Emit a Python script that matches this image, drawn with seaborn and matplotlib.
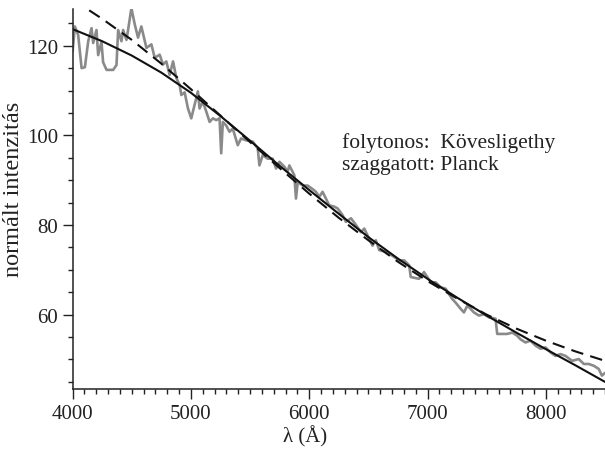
import matplotlib
matplotlib.use("Agg")
import matplotlib.pyplot as plt
from matplotlib.ticker import MultipleLocator
import seaborn as sns
import pandas as pd

# Observed spectrum (gray)
spec_wl = [4000, 4019, 4047, 4076, 4104, 4132, 4160, 4174, 4202, 4216, 4244, 4258, 4287, 4343,
           4371, 4385, 4413, 4427, 4455, 4469, 4497, 4525, 4553, 4581, 4610, 4624, 4666, 4694,
           4736, 4764, 4792, 4820, 4849, 4877, 4905, 4919, 4947, 4975, 5003, 5031, 5059, 5073,
           5101, 5130, 5158, 5186, 5214, 5242, 5256, 5270, 5298, 5326, 5354, 5396, 5424, 5466,
           5523, 5565, 5579, 5607, 5649, 5691, 5720, 5748, 5790, 5818, 5832, 5874, 5888, 5903,
           5945, 5987, 6029, 6057, 6085, 6113, 6141, 6169, 6212, 6240, 6282, 6310, 6353, 6395,
           6437, 6465, 6493, 6535, 6563, 6592, 6650, 6700, 6761, 6803, 6845, 6858, 6928, 6970,
           6998, 7027, 7069, 7111, 7153, 7181, 7209, 7237, 7280, 7308, 7336, 7364, 7392, 7434,
           7477, 7519, 7575, 7589, 7673, 7716, 7758, 7786, 7828, 7870, 7913, 7955, 7997, 8039,
           8081, 8124, 8166, 8222, 8278, 8321, 8363, 8405, 8447, 8474, 8500]
spec_int = [118.7, 124.3, 122.4, 115.0, 115.2, 121.0, 123.9, 120.6, 123.5, 117.9, 120.8, 116.3,
            114.6, 114.6, 115.7, 123.5, 121.0, 123.5, 121.3, 123.5, 128.4, 124.8, 121.8, 124.3,
            121.0, 119.5, 120.3, 117.3, 118.0, 115.8, 116.5, 113.5, 116.5, 112.8, 111.2, 109.0,
            109.6, 106.0, 103.8, 106.8, 109.8, 106.0, 107.5, 105.3, 103.0, 103.8, 103.4, 103.8,
            96.0, 103.0, 102.2, 100.8, 101.5, 97.8, 99.3, 98.9, 98.6, 97.1, 93.3, 95.6, 94.8,
            94.8, 92.6, 94.1, 93.0, 91.9, 93.3, 91.1, 85.9, 89.6, 88.8, 88.8, 88.0, 87.4, 86.3,
            87.4, 85.9, 84.4, 84.1, 83.7, 82.2, 80.7, 81.5, 80.0, 78.4, 79.2, 77.7, 75.4, 76.6,
            74.4, 74.0, 73.2, 72.1, 72.1, 71.0, 68.4, 68.0, 69.5, 68.4, 67.2, 67.2, 66.1, 65.8,
            64.6, 63.5, 62.7, 61.3, 60.5, 62.0, 61.3, 60.5, 59.8, 60.1, 59.4, 59.1, 55.7, 55.7,
            56.0, 55.3, 54.5, 53.8, 54.2, 53.1, 52.4, 52.7, 51.6, 50.8, 51.2, 50.8, 49.7, 50.1,
            49.0, 49.0, 48.6, 47.9, 46.4, 47.0]

# Model curves
model_wl = [4000, 4250, 4500, 4750, 5000, 5250, 5500, 5750, 6000, 6250, 6500, 6750, 7000,
            7250, 7500, 7750, 8000, 8250, 8500]
koves_int = [123.7, 121.0, 117.8, 114.0, 109.5, 104.3, 98.8, 93.2, 87.8, 82.5, 77.3, 72.5,
             68.0, 63.8, 59.8, 56.0, 52.3, 48.7, 45.0]
planck_int = [130.3, 126.0, 121.3, 116.0, 110.3, 104.4, 98.5, 92.7, 87.0, 81.6, 76.6, 71.8,
              67.5, 63.6, 60.0, 56.9, 54.2, 51.8, 49.7]

x_ticks = [4000, 5000, 6000, 7000, 8000]
y_ticks = [60, 80, 100, 120]

sns.set_style("ticks")
plt.rcParams['font.family'] = ['Liberation Serif', 'DejaVu Serif']

spec_df = pd.DataFrame({"wl": spec_wl, "I": spec_int})
model_df = pd.DataFrame({"wl": model_wl, "K": koves_int, "P": planck_int})

fig = plt.figure(figsize=(6.05, 4.52), dpi=100)
ax = fig.add_axes([0.120, 0.137, 0.880, 0.841])

sns.lineplot(data=spec_df, x="wl", y="I", ax=ax, color="#8a8a8a", lw=1.9,
             estimator=None, sort=False)
sns.lineplot(data=model_df, x="wl", y="K", ax=ax, color="#111111", lw=1.5,
             estimator=None, sort=False)
sns.lineplot(data=model_df, x="wl", y="P", ax=ax, color="#111111", lw=1.5,
             estimator=None, sort=False, linestyle=(0, (6, 3.5)))

ax.set_xlim(4000, 8500)
ax.set_ylim(43.4, 128.2)
ax.set_xticks(x_ticks)
ax.set_yticks(y_ticks)
ax.xaxis.set_minor_locator(MultipleLocator(100))
ax.yaxis.set_minor_locator(MultipleLocator(5))
ax.tick_params(which="major", direction="out", length=7, width=1.0, labelsize=15,
               colors="#222222", pad=3.5)
ax.tick_params(which="minor", direction="out", length=3.8, width=1.0, colors="#222222")
for s in ["top", "right"]:
    ax.spines[s].set_visible(False)
for s in ["left", "bottom"]:
    ax.spines[s].set_linewidth(1.1)
    ax.spines[s].set_color("#222222")

ax.set_xlabel("λ (Å)", fontsize=15, color="#222222")
ax.set_ylabel("normált intenzitás", fontsize=17.5, color="#222222")
ax.xaxis.set_label_coords(0.436, -0.095)
ax.yaxis.set_label_coords(-0.092, 0.528)

ax.text(6279, 97.5, "folytonos:  Kövesligethy", fontsize=15.5, color="#222222", va="baseline")
ax.text(6279, 92.6, "szaggatott: Planck", fontsize=15.5, color="#222222", va="baseline")

fig.savefig("out.png", dpi=100)
